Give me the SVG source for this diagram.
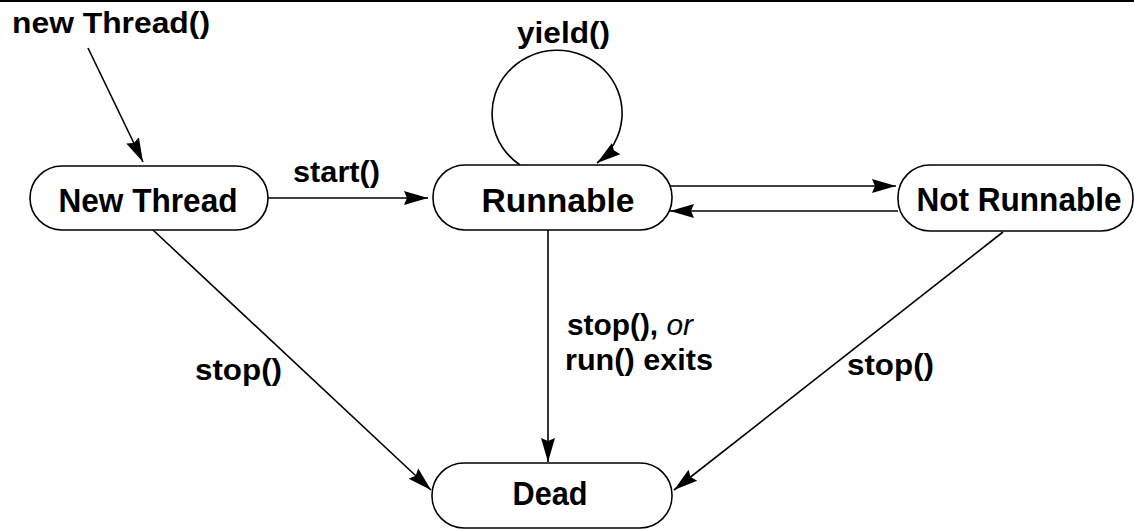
<svg xmlns="http://www.w3.org/2000/svg" width="1134" height="529" viewBox="0 0 1134 529">
  <style>
    .node rect { fill: #fff; stroke: #000; stroke-width: 1.6; }
    .nt { font-family: "Liberation Sans", Arial, sans-serif; font-weight: bold; font-size: 33px; fill: #000; text-anchor: middle; }
    .lb { font-family: "Liberation Sans", Arial, sans-serif; font-weight: bold; font-size: 29px; fill: #000; }
    .conn path, .conn line { fill: none; stroke: #000; stroke-width: 1.6; }
  </style>
  <defs>
    <marker id="arr" markerUnits="userSpaceOnUse" markerWidth="28" markerHeight="18" refX="24" refY="8" orient="auto">
      <path d="M0,1 L24,8 L0,15 L3,8 z" fill="#000"/>
    </marker>
  </defs>
  <rect x="0" y="0" width="1134" height="529" fill="#fff"/>
  <line x1="0" y1="1" x2="1134" y2="1" stroke="#000" stroke-width="2"/>

  <g class="conn">
    <line x1="88" y1="48" x2="143" y2="162" marker-end="url(#arr)"/>
    <line x1="268" y1="198" x2="428" y2="198" marker-end="url(#arr)"/>
    <path d="M 520 165 A 65 63 0 1 1 597 163" marker-end="url(#arr)"/>
    <line x1="668" y1="186" x2="896" y2="186" marker-end="url(#arr)"/>
    <line x1="898" y1="211" x2="670" y2="211" marker-end="url(#arr)"/>
    <line x1="548" y1="230" x2="548" y2="462" marker-end="url(#arr)"/>
    <line x1="153" y1="230" x2="431" y2="490" marker-end="url(#arr)"/>
    <line x1="1003" y1="232" x2="674" y2="490" marker-end="url(#arr)"/>
  </g>

  <g id="labels">
    <text class="lb" x="12" y="33" textLength="198" lengthAdjust="spacingAndGlyphs">new Thread()</text>
    <text class="lb" x="293" y="182" textLength="87" lengthAdjust="spacingAndGlyphs">start()</text>
    <text class="lb" x="517" y="43" textLength="93" lengthAdjust="spacingAndGlyphs">yield()</text>
    <text class="lb" x="567" y="335" textLength="126" lengthAdjust="spacingAndGlyphs">stop(), <tspan font-style="italic" font-weight="normal">or</tspan></text>
    <text class="lb" x="565" y="370" textLength="148" lengthAdjust="spacingAndGlyphs">run() exits</text>
    <text class="lb" x="195" y="380" textLength="87" lengthAdjust="spacingAndGlyphs">stop()</text>
    <text class="lb" x="847" y="375" textLength="87" lengthAdjust="spacingAndGlyphs">stop()</text>
  </g>

  <g id="node-new" class="node">
    <rect x="30" y="166" width="238" height="64" rx="32" ry="32"/>
    <text class="nt" x="148" y="212" textLength="179" lengthAdjust="spacingAndGlyphs">New Thread</text>
  </g>
  <g id="node-runnable" class="node">
    <rect x="433" y="165" width="239" height="65" rx="32" ry="32"/>
    <text class="nt" x="558" y="212" textLength="153" lengthAdjust="spacingAndGlyphs">Runnable</text>
  </g>
  <g id="node-notrunnable" class="node">
    <rect x="898" y="165" width="235" height="66" rx="32" ry="32"/>
    <text class="nt" x="1019" y="211" textLength="205" lengthAdjust="spacingAndGlyphs">Not Runnable</text>
  </g>
  <g id="node-dead" class="node">
    <rect x="432" y="463" width="240" height="65" rx="32" ry="32"/>
    <text class="nt" x="550" y="505" textLength="75" lengthAdjust="spacingAndGlyphs">Dead</text>
  </g>
</svg>
